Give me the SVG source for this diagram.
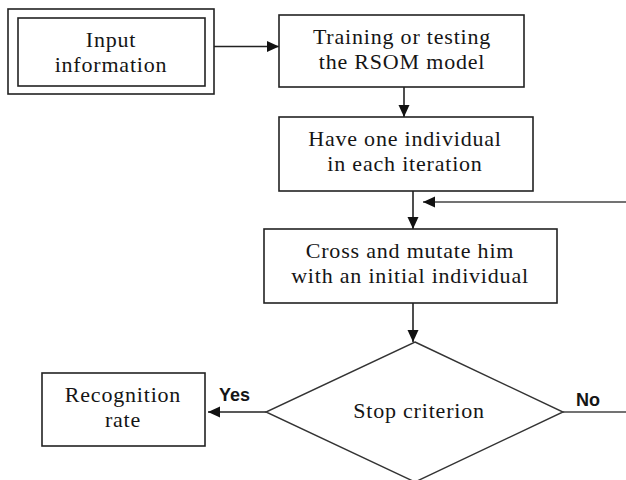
<svg xmlns="http://www.w3.org/2000/svg" width="626" height="480" viewBox="0 0 626 480">
  <style>
    .box { fill: #fff; stroke: #222; stroke-width: 1.6; }
    .dia { fill: #fff; stroke: #333; stroke-width: 1.4; }
    .lbl { font-family: "Liberation Serif", "Times New Roman", serif; font-size: 22px; letter-spacing: 0.8px; fill: #151515; text-anchor: middle; }
    .yn { font-family: "Liberation Sans", Arial, sans-serif; font-size: 18px; font-weight: bold; fill: #151515; }
    .edge { fill: none; stroke: #222; stroke-width: 1.6; }
    .thin { fill: none; stroke: #444; stroke-width: 1.3; }
  </style>
  <defs>
    <marker id="arrow" markerUnits="userSpaceOnUse" markerWidth="13" markerHeight="12" refX="12" refY="5.5" orient="auto">
      <path d="M0,0 L12,5.5 L0,11 z" fill="#111"/>
    </marker>
  </defs>
  <rect width="626" height="480" fill="#fff"/>

  <g id="connectors">
    <line class="edge" x1="214" y1="46.5" x2="279" y2="46.5" marker-end="url(#arrow)"/>
    <line class="edge" x1="404" y1="87" x2="404" y2="117" marker-end="url(#arrow)"/>
    <line class="edge" x1="413" y1="191" x2="413" y2="229" marker-end="url(#arrow)"/>
    <line class="thin" x1="626" y1="202" x2="423" y2="202" marker-end="url(#arrow)"/>
    <line class="edge" x1="413" y1="303" x2="413" y2="342" marker-end="url(#arrow)"/>
    <line class="edge" x1="266" y1="412" x2="208" y2="412" marker-end="url(#arrow)"/>
    <line class="thin" x1="563" y1="412" x2="626" y2="412"/>
    <text class="yn" x="219" y="401">Yes</text>
    <text class="yn" x="576" y="406">No</text>
  </g>

  <g id="input">
    <rect class="box" x="8" y="9" width="206" height="85"/>
    <rect class="box" x="18" y="18" width="187" height="68"/>
    <text class="lbl" x="111" y="47">Input</text>
    <text class="lbl" x="111" y="72">information</text>
  </g>

  <g id="training">
    <rect class="box" x="279" y="15" width="245" height="72"/>
    <text class="lbl" x="402" y="44">Training or testing</text>
    <text class="lbl" x="402" y="68.5">the RSOM model</text>
  </g>

  <g id="individual">
    <rect class="box" x="279" y="117" width="254" height="74"/>
    <text class="lbl" x="405" y="146">Have one individual</text>
    <text class="lbl" x="405" y="170.5">in each iteration</text>
  </g>

  <g id="cross">
    <rect class="box" x="264" y="229" width="293" height="74"/>
    <text class="lbl" x="410" y="258">Cross and mutate him</text>
    <text class="lbl" x="410" y="282.5">with an initial individual</text>
  </g>

  <g id="stop">
    <polygon class="dia" points="415,342 563,412 415,482 266,412"/>
    <text class="lbl" x="419" y="418">Stop criterion</text>
  </g>

  <g id="recognition">
    <rect class="box" x="42" y="373" width="163" height="73"/>
    <text class="lbl" x="123" y="402">Recognition</text>
    <text class="lbl" x="123" y="427">rate</text>
  </g>
</svg>
